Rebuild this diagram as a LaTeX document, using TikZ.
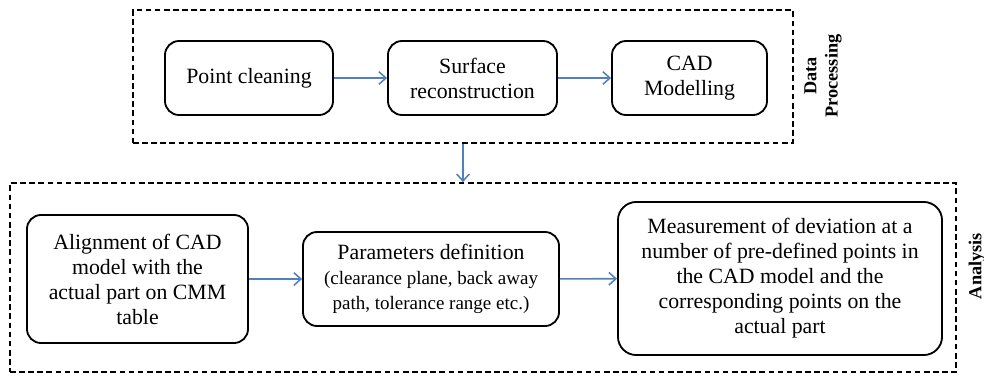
\documentclass[tikz,border=0pt]{standalone}
\usepackage{fontspec}
\setmainfont{Liberation Serif}
\usepackage{tikz}
\usetikzlibrary{arrows.meta}

\definecolor{arrowblue}{RGB}{79,129,189}

\begin{document}
\begin{tikzpicture}[x=0.025cm, y=-0.025cm,
	step box/.style = {draw, line width=1.3pt, rounded corners=10pt, align=center, inner sep=2pt, font=\fontsize{15.5}{17.8}\selectfont},
	group box/.style = {draw, line width=1.1pt, dash pattern=on 4pt off 2.5pt, inner sep=0pt},
	side label/.style = {rotate=90, align=center, font=\bfseries\fontsize{13}{15}\selectfont},
	flow/.style = {arrowblue, line width=1.1pt, -{Straight Barb[length=5pt, width=9pt, line width=1.1pt]}}]
	\useasboundingbox (0,0) rectangle (984,375);
	% data processing
	\node[group box, minimum width=16.5cm, minimum height=3.325cm] (dp) at (463,76.5) {};
	\node[step box, minimum width=4.2cm, minimum height=1.85cm] (clean) at (249,78) {Point cleaning};
	\node[step box, minimum width=4.225cm, minimum height=1.85cm] (surf) at (472.5,78) {Surface\\reconstruction};
	\node[step box, minimum width=3.875cm, minimum height=1.85cm] (cad) at (689.5,78) {CAD\\Modelling};
	\node[side label] (dplabel) at (823,76) {Data\\Processing};
	% analysis
	\node[group box, minimum width=23.65cm, minimum height=4.725cm] (an) at (483,277.5) {};
	\node[step box, minimum width=5.525cm, minimum height=3.2cm] (align) at (137.5,279) {Alignment of CAD\\model with the\\actual part on CMM\\table};
	\node[step box, minimum width=6.4cm, minimum height=2.35cm] (param) at (431,279) {Parameters definition\\{\fontsize{13.5}{17}\selectfont(clearance plane, back away}\\{\fontsize{13.5}{17}\selectfont path, tolerance range etc.)}};
	\node[step box, rounded corners=13pt, minimum width=8.1cm, minimum height=3.825cm] (meas) at (780,278.5) {Measurement of deviation at a\\number of pre-defined points in\\the CAD model and the\\corresponding points on the\\actual part};
	\node[side label] (anlabel) at (977,266) {Analysis};
	% arrows
	\draw[flow] (clean) -- (surf);
	\draw[flow] (surf) -- (cad);
	\draw[flow] (dp.south) -- (dp.south |- an.north);
	\draw[flow] (align.east |- param.west) -- (param.west);
	\draw[flow] (param) -- (meas);
\end{tikzpicture}
\end{document}
